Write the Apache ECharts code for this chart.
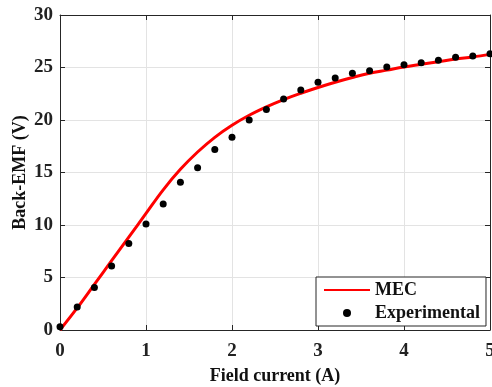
<!DOCTYPE html>
<html>
<head>
<meta charset="utf-8">
<script src="https://cdn.jsdelivr.net/npm/echarts@6/dist/echarts.min.js"></script>
<style>
  html, body { margin: 0; padding: 0; background: #fff; }
  #chart { width: 492px; height: 387px; }
</style>
</head>
<body>
<div id="chart"></div>
<script>
// field current (A), step 0.2
const fieldCurrent = [0, 0.2, 0.4, 0.6, 0.8, 1.0, 1.2, 1.4, 1.6, 1.8, 2.0, 2.2, 2.4,
  2.6, 2.8, 3.0, 3.2, 3.4, 3.6, 3.8, 4.0, 4.2, 4.4, 4.6, 4.8, 5.0];
// MEC model back-EMF (V)
const mecEmf = [0, 2.1, 4.35, 6.6, 8.85, 11.1, 13.35, 15.3, 16.95, 18.35, 19.5, 20.45, 21.25,
  21.95, 22.55, 23.1, 23.6, 24.05, 24.45, 24.75, 25.05, 25.3, 25.55, 25.8, 26.0, 26.25];
// measured back-EMF (V)
const expEmf = [0.3, 2.2, 4.05, 6.1, 8.25, 10.1, 12.0, 14.07, 15.45, 17.2, 18.35, 20.0, 21.0,
  22.0, 22.85, 23.6, 24.0, 24.45, 24.7, 25.05, 25.27, 25.46, 25.68, 25.97, 26.1, 26.3];

const fontFamily = "'Liberation Serif', 'Times New Roman', serif";
const frameColor = '#262626';

const myChart = echarts.init(document.getElementById('chart'), null, { renderer: 'canvas' });

const baseX = {
  type: 'value', min: 0, max: 5, interval: 1,
  axisLine: { show: true, onZero: false, lineStyle: { color: frameColor, width: 1 } },
  axisTick: { show: true, inside: true, length: 5, lineStyle: { color: frameColor } }
};
const baseY = {
  type: 'value', min: 0, max: 30, interval: 5,
  axisLine: { show: true, onZero: false, lineStyle: { color: frameColor, width: 1 } },
  axisTick: { show: true, inside: true, length: 5, lineStyle: { color: frameColor } }
};

const option = {
  animation: false,
  backgroundColor: '#fff',
  grid: { left: 60, top: 15, right: 2, bottom: 57, outerBoundsMode: 'none', containLabel: false },
  textStyle: { fontFamily: fontFamily },
  legend: {
    orient: 'vertical',
    left: 316, top: 277,
    padding: [4, 6, 4, 7],
    itemGap: 5,
    itemWidth: 46, itemHeight: 8,
    backgroundColor: '#fff',
    borderColor: frameColor, borderWidth: 1, borderRadius: 0,
    textStyle: { fontFamily: fontFamily, fontWeight: 'bold', fontSize: 18, color: '#111' },
    data: [
      { name: 'MEC', itemStyle: { opacity: 0 } },
      { name: 'Experimental', itemStyle: { color: '#000', opacity: 1 } }
    ]
  },
  xAxis: [
    Object.assign({}, baseX, {
      position: 'bottom',
      name: 'Field current (A)', nameLocation: 'middle', nameGap: 37,
      nameMoveOverlap: false,
      nameTextStyle: { fontFamily: fontFamily, fontWeight: 'bold', fontSize: 18, color: '#111' },
      axisLabel: { margin: 12, fontFamily: fontFamily, fontWeight: 'bold', fontSize: 19, color: '#222' },
      splitLine: { show: true, lineStyle: { color: '#e3e3e3', width: 1 } }
    }),
    Object.assign({}, baseX, {
      position: 'top',
      axisLabel: { show: false },
      splitLine: { show: false }
    })
  ],
  yAxis: [
    Object.assign({}, baseY, {
      position: 'left',
      name: 'Back-EMF (V)', nameLocation: 'middle', nameGap: 31,
      nameMoveOverlap: false,
      nameTextStyle: { fontFamily: fontFamily, fontWeight: 'bold', fontSize: 18, color: '#111' },
      axisLabel: { margin: 7, fontFamily: fontFamily, fontWeight: 'bold', fontSize: 19, color: '#222' },
      splitLine: { show: true, lineStyle: { color: '#e3e3e3', width: 1 } }
    }),
    Object.assign({}, baseY, {
      position: 'right',
      axisLabel: { show: false },
      splitLine: { show: false }
    })
  ],
  series: [
    {
      name: 'MEC',
      type: 'line',
      smooth: 0.4,
      showSymbol: false,
      symbol: 'none',
      color: '#ff0000',
      lineStyle: { color: '#ff0000', width: 3 },
      data: fieldCurrent.map((x, i) => [x, mecEmf[i]]),
      z: 2
    },
    {
      name: 'Experimental',
      type: 'scatter',
      symbol: 'circle',
      symbolSize: 7,
      clip: false,
      itemStyle: { color: '#000', opacity: 1 },
      data: fieldCurrent.map((x, i) => [x, expEmf[i]]),
      z: 3
    }
  ]
};

option && myChart.setOption(option);
</script>
</body>
</html>
